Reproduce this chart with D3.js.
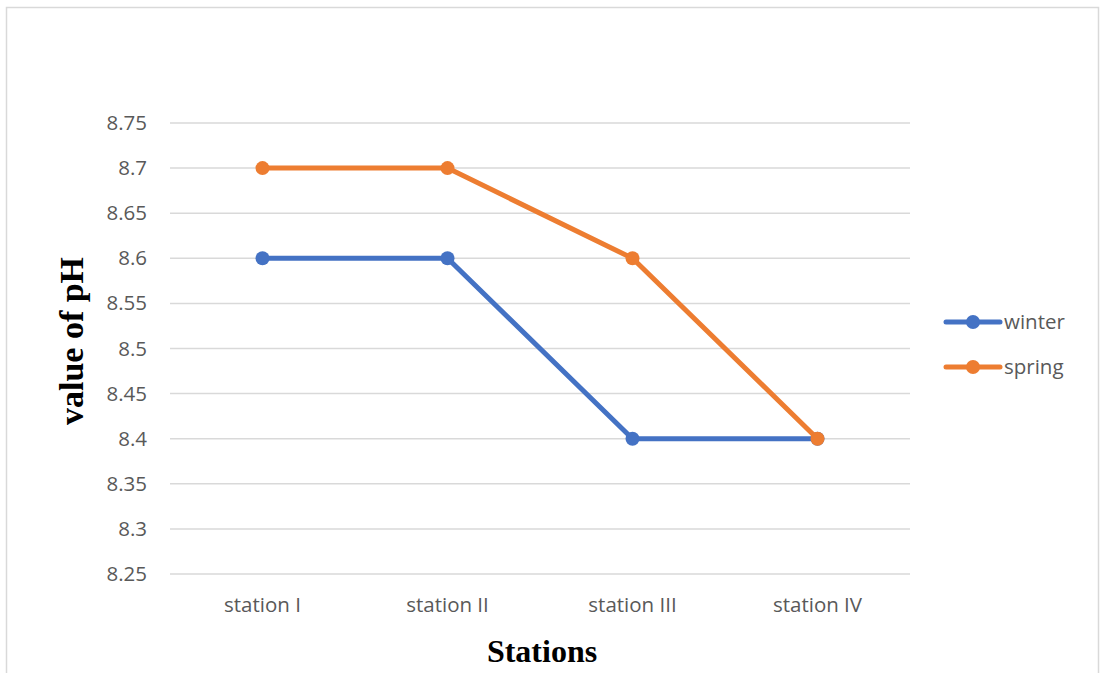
<!DOCTYPE html>
<html><head><meta charset="utf-8">
<script src="https://cdn.jsdelivr.net/npm/d3@7"></script>
<style>body{margin:0;background:#fff}svg{display:block}</style>
</head><body><svg id="c" width="1100" height="673"></svg>
<script>
const categories = ["station I", "station II", "station III", "station IV"];
const winter = [8.6, 8.6, 8.4, 8.4];
const spring = [8.7, 8.7, 8.6, 8.4];
const yTicks = [8.25, 8.3, 8.35, 8.4, 8.45, 8.5, 8.55, 8.6, 8.65, 8.7, 8.75];
const seriesNames = ["winter", "spring"];
const colors = ["#4472C4", "#ED7D31"];

const svg = d3.select("#c");
svg.append("path").attr("d","M6.5,673 V7.5 H1098.5 V673").attr("fill","none").attr("stroke","#d9d9d9").attr("stroke-width",1.5);

const x = d3.scaleBand().domain(categories).range([170, 910]);
const y = d3.scaleLinear().domain([8.25, 8.75]).range([574, 123]);

const grid = svg.append("g");
yTicks.forEach(t => {
  grid.append("line").attr("x1",170).attr("x2",910).attr("y1",y(t)).attr("y2",y(t))
    .attr("stroke","#d9d9d9").attr("stroke-width",1.5);
});
const yAxis = svg.append("g").attr("transform","translate(170,0)")
  .call(d3.axisLeft(y).tickValues(yTicks).tickSize(0).tickPadding(23).tickFormat(d=>String(+d.toFixed(2))));
yAxis.select(".domain").remove();
yAxis.selectAll("text").attr("font-family","'Open Sans', sans-serif").attr("font-size",20.5).attr("fill","#595959");

const xAxis = svg.append("g").attr("transform","translate(0,574)")
  .call(d3.axisBottom(x).tickSize(0).tickPadding(23));
xAxis.select(".domain").remove();
xAxis.selectAll("text").attr("font-family","'Open Sans', sans-serif").attr("font-size",20.5).attr("fill","#595959");

const cx = d => x(d) + x.bandwidth()/2;
const line = d3.line().x((d,i)=>cx(categories[i])).y(d=>y(d));
[winter, spring].forEach((s, k) => {
  svg.append("path").datum(s).attr("d", line).attr("fill","none")
    .attr("stroke", colors[k]).attr("stroke-width",5).attr("stroke-linejoin","round");
  svg.selectAll(null).data(s).enter().append("circle")
    .attr("cx",(d,i)=>cx(categories[i])).attr("cy",d=>y(d)).attr("r",7).attr("fill",colors[k]);
});

seriesNames.forEach((n,k) => {
  const ly = 322 + k*45;
  svg.append("line").attr("x1",946).attr("x2",1000).attr("y1",ly).attr("y2",ly)
    .attr("stroke",colors[k]).attr("stroke-width",5).attr("stroke-linecap","round");
  svg.append("circle").attr("cx",973).attr("cy",ly).attr("r",7).attr("fill",colors[k]);
  svg.append("text").attr("x",1004).attr("y",ly).attr("dy","0.35em")
    .attr("font-family","'Open Sans', sans-serif").attr("font-size",20.5).attr("fill","#595959").text(n);
});

svg.append("text").attr("transform","translate(83,341) rotate(-90)").attr("text-anchor","middle")
  .attr("font-family","'Liberation Serif', 'Times New Roman', serif").attr("font-weight","bold").attr("font-size",34)
  .text("value of pH");
svg.append("text").attr("x",542).attr("y",662).attr("text-anchor","middle")
  .attr("font-family","'Liberation Serif', 'Times New Roman', serif").attr("font-weight","bold").attr("font-size",32)
  .text("Stations");
</script></body></html>
